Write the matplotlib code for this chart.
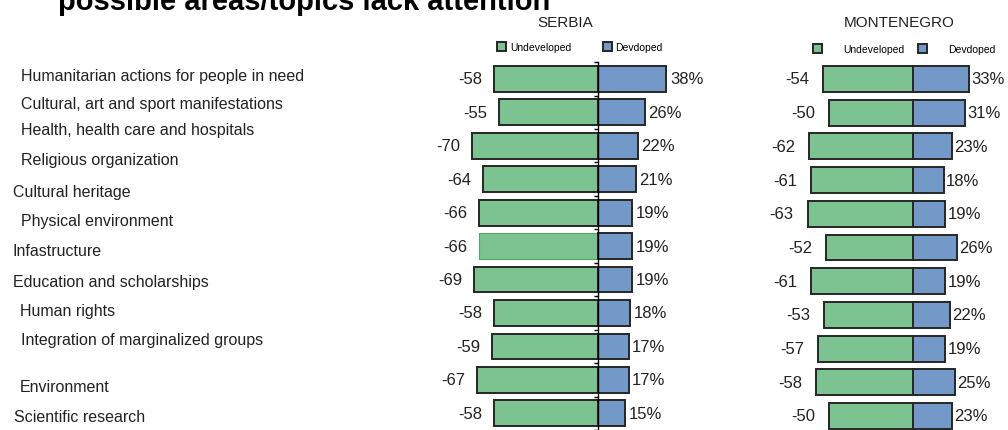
import matplotlib.pyplot as plt

plt.rcParams['font.family'] = ['Liberation Sans', 'DejaVu Sans']

# rows shown in the chart (the last category's bars fall below the picture)
categories = ['Humanitarian actions for people in need',
              'Cultural, art and sport manifestations',
              'Health, health care and hospitals',
              'Religious organization',
              'Cultural heritage',
              'Physical environment',
              'Infastructure',
              'Education and scholarships',
              'Human rights',
              'Integration of marginalized groups',
              'Environment',
              'Scientific research']
serbia_undeveloped = [-58, -55, -70, -64, -66, -66, -69, -58, -59, -67, -58]
serbia_developed = [38, 26, 22, 21, 19, 19, 19, 18, 17, 17, 15]
montenegro_undeveloped = [-54, -50, -62, -61, -63, -52, -61, -53, -57, -58, -50]
montenegro_developed = [33, 31, 23, 18, 19, 26, 19, 22, 19, 25, 23]
legend_labels = ['Undeveloped', 'Devdoped']

# label placement in pixels (text sits apart from the bars in the original)
label_x = [21, 21, 21, 21, 13, 21, 13, 13, 20, 21, 20, 14]
label_y = [77, 104, 131, 161, 193, 222, 252, 283, 312, 341, 388, 418]

W, H = 1008, 431
GREEN = '#7DC391'
BLUE = '#7399C9'
EDGE = '#262626'
TXT = '#222222'

fig = plt.figure(figsize=(W / 100, H / 100), dpi=100)
fig.patch.set_facecolor('white')

row_pitch = 33.7
top_px = 80 - row_pitch / 2
ymax = (H - 80) / row_pitch


def make_panel(left_px, xmin, xmax, scale, und, dev, title, title_x,
               neg_pad, pos_pad, leg_x, leg_y, leg_pad, leg_col, axis_line):
    width_px = (xmax - xmin) * scale
    ax = fig.add_axes([left_px / W, 0, width_px / W, (H - top_px) / H])
    ax.set_xlim(xmin, xmax)
    ax.set_ylim(ymax, -0.5)
    rows = list(range(len(und)))
    b1 = ax.barh(rows, und, height=0.77, color=GREEN, edgecolor=EDGE, linewidth=1.4)
    b2 = ax.barh(rows, dev, height=0.77, color=BLUE, edgecolor=EDGE, linewidth=1.4)
    ax.bar_label(b1, fmt='%d', padding=neg_pad, fontsize=12, color=TXT)
    ax.bar_label(b2, fmt='%d%%', padding=pos_pad, fontsize=12, color=TXT)
    for s in ['top', 'right', 'bottom']:
        ax.spines[s].set_visible(False)
    ax.set_xticks([])
    if axis_line:
        ax.spines['left'].set_position(('data', 0))
        ax.spines['left'].set_color('black')
        ax.spines['left'].set_linewidth(1.0)
        ax.spines['left'].set_zorder(3)
        ax.set_yticks([r - 0.5 for r in rows] + [rows[-1] + 0.5])
        ax.tick_params(axis='y', length=3, width=1, direction='out', labelleft=False)
    else:
        ax.spines['left'].set_visible(False)
        ax.set_yticks([])
    ax.patch.set_visible(False)
    fig.text(title_x / W, 1 - 23 / H, title, fontsize=11, color=TXT,
             ha='center', va='center')
    ax.legend([b1, b2], legend_labels, loc='center left',
              bbox_to_anchor=(leg_x / W, 1 - leg_y / H),
              bbox_transform=fig.transFigure, ncol=2, frameon=False,
              fontsize=7.5, handlelength=0.9, handleheight=0.9,
              handletextpad=leg_pad, columnspacing=leg_col,
              borderpad=0, borderaxespad=0)
    return ax, b1


ax1, serbia_bars = make_panel(454, -80, 45, 1.8, serbia_undeveloped, serbia_developed,
                              'SERBIA', 565, 8.5, 2.5, 497, 48, 0.35, 3.0, True)
# the Infastructure bar has no dark outline in the original
serbia_bars[5].set_edgecolor('#4FA86A')
serbia_bars[5].set_linewidth(0.8)

ax2, _ = make_panel(779, -80, 55, 1.68, montenegro_undeveloped, montenegro_developed,
                    'MONTENEGRO', 899, 10, 1.5, 813, 50, 2.0, 1.3, False)

for name, x, y in zip(categories, label_x, label_y):
    fig.text(x / W, 1 - y / H, name, fontsize=11.5, color=TXT, ha='left', va='center')

# title is partly cut off at the top edge, as in the original
fig.text(58 / W, 1 - 10 / H, 'possible areas/topics lack attention',
         fontsize=21, fontweight='bold', color='black', va='baseline')

fig.savefig('out.png', dpi=100)
